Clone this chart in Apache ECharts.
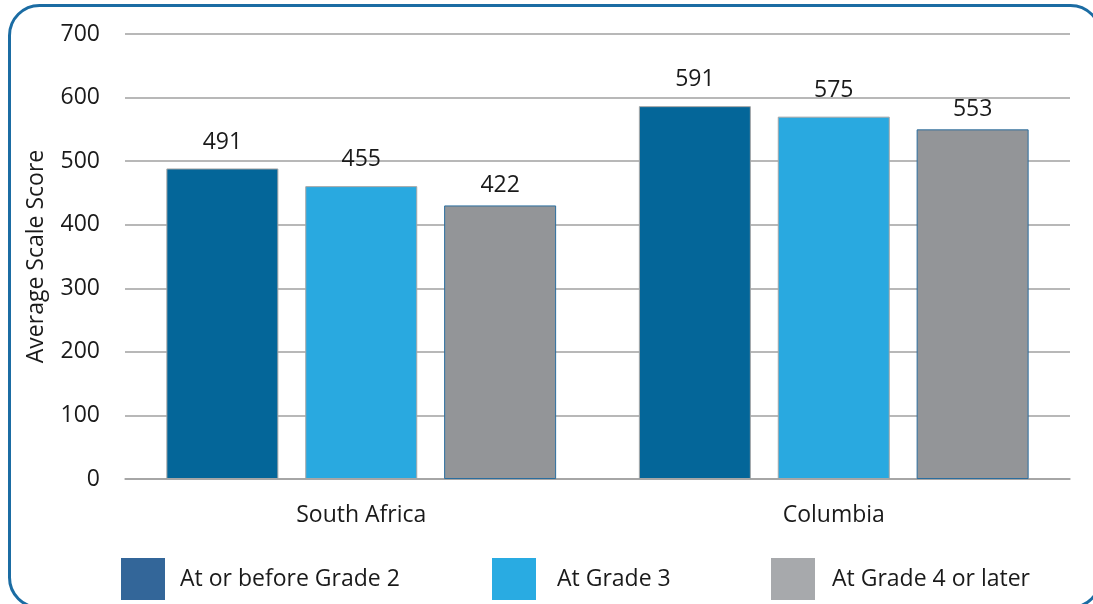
<!DOCTYPE html>
<html>
<head>
<meta charset="utf-8">
<script src="https://cdn.jsdelivr.net/npm/echarts@6/dist/echarts.min.js"></script>
<style>
html,body{margin:0;padding:0;background:#fff;}
#c{width:1093px;height:604px;}
</style>
</head>
<body>
<div id="c"></div>
<script>
const categories = ['South Africa', 'Columbia'];
const seriesNames = ['At or before Grade 2', 'At Grade 3', 'At Grade 4 or later'];
// bar heights as drawn
const grade2Values = [488.5, 586.5];
const grade3Values = [460.7, 570];
const grade4Values = [430.3, 550];
// printed value labels
const grade2Labels = ['491', '591'];
const grade3Labels = ['455', '575'];
const grade4Labels = ['422', '553'];
const yTicks = [0, 100, 200, 300, 400, 500, 600, 700];

const FONT = 'Open Sans';
const FS = 23;
const chart = echarts.init(document.getElementById('c'));

function mkSeries(name, values, labels, color, border, dist) {
  return {
    name: name,
    type: 'bar',
    barWidth: 112,
    barGap: '24%',
    data: values,
    itemStyle: { color: color, borderColor: border, borderWidth: 1 },
    label: {
      show: true, position: 'top', distance: dist,
      fontFamily: FONT, fontSize: FS, color: '#1a1a1a',
      formatter: p => labels[p.dataIndex]
    }
  };
}

const legendDefs = [
  { name: seriesNames[0], color: '#336699', left: 121, gap: 10 },
  { name: seriesNames[1], color: '#29abe2', left: 492, gap: 16 },
  { name: seriesNames[2], color: '#a7a9ac', left: 771, gap: 12 }
];

chart.setOption({
  animation: false,
  backgroundColor: '#fff',
  graphic: [{
    type: 'rect', silent: true, z: 100,
    shape: { x: 9.5, y: 5.5, width: 1091, height: 602, r: 30 },
    style: { fill: 'none', stroke: '#1b6ca3', lineWidth: 3 }
  }],
  legend: legendDefs.map(d => ({
    left: d.left, top: 558, padding: 0,
    itemWidth: 44, itemHeight: 42, icon: 'rect',
    selectedMode: false,
    textStyle: { fontFamily: FONT, fontSize: FS, color: '#1a1a1a', padding: [5, 0, 0, d.gap] },
    data: [{ name: d.name, itemStyle: { color: d.color, borderWidth: 0 } }]
  })),
  grid: { left: 125, right: 23, top: 34, bottom: 125 },
  xAxis: {
    type: 'category',
    data: categories,
    axisTick: { show: false },
    axisLine: { lineStyle: { color: '#a0a0a0', width: 1.5 } },
    axisLabel: { fontFamily: FONT, fontSize: FS, color: '#1a1a1a', margin: 25 }
  },
  yAxis: {
    type: 'value',
    min: yTicks[0], max: yTicks[yTicks.length - 1], interval: 100,
    name: 'Average Scale Score',
    nameLocation: 'middle', nameGap: 77, nameRotate: 90,
    nameTextStyle: { fontFamily: FONT, fontSize: FS, color: '#1a1a1a' },
    axisLine: { show: false },
    axisTick: { show: false },
    axisLabel: { fontFamily: FONT, fontSize: FS, color: '#1a1a1a', margin: 25 },
    splitLine: { lineStyle: { color: '#a0a0a0', width: 1.5 } }
  },
  series: [
    mkSeries(seriesNames[0], grade2Values, grade2Labels, '#046699', '#a6a6a6', 15),
    mkSeries(seriesNames[1], grade3Values, grade3Labels, '#29a9e0', '#a6a6a6', 15),
    mkSeries(seriesNames[2], grade4Values, grade4Labels, '#939598', '#2a6d9e', 8)
  ]
});
</script>
</body>
</html>
